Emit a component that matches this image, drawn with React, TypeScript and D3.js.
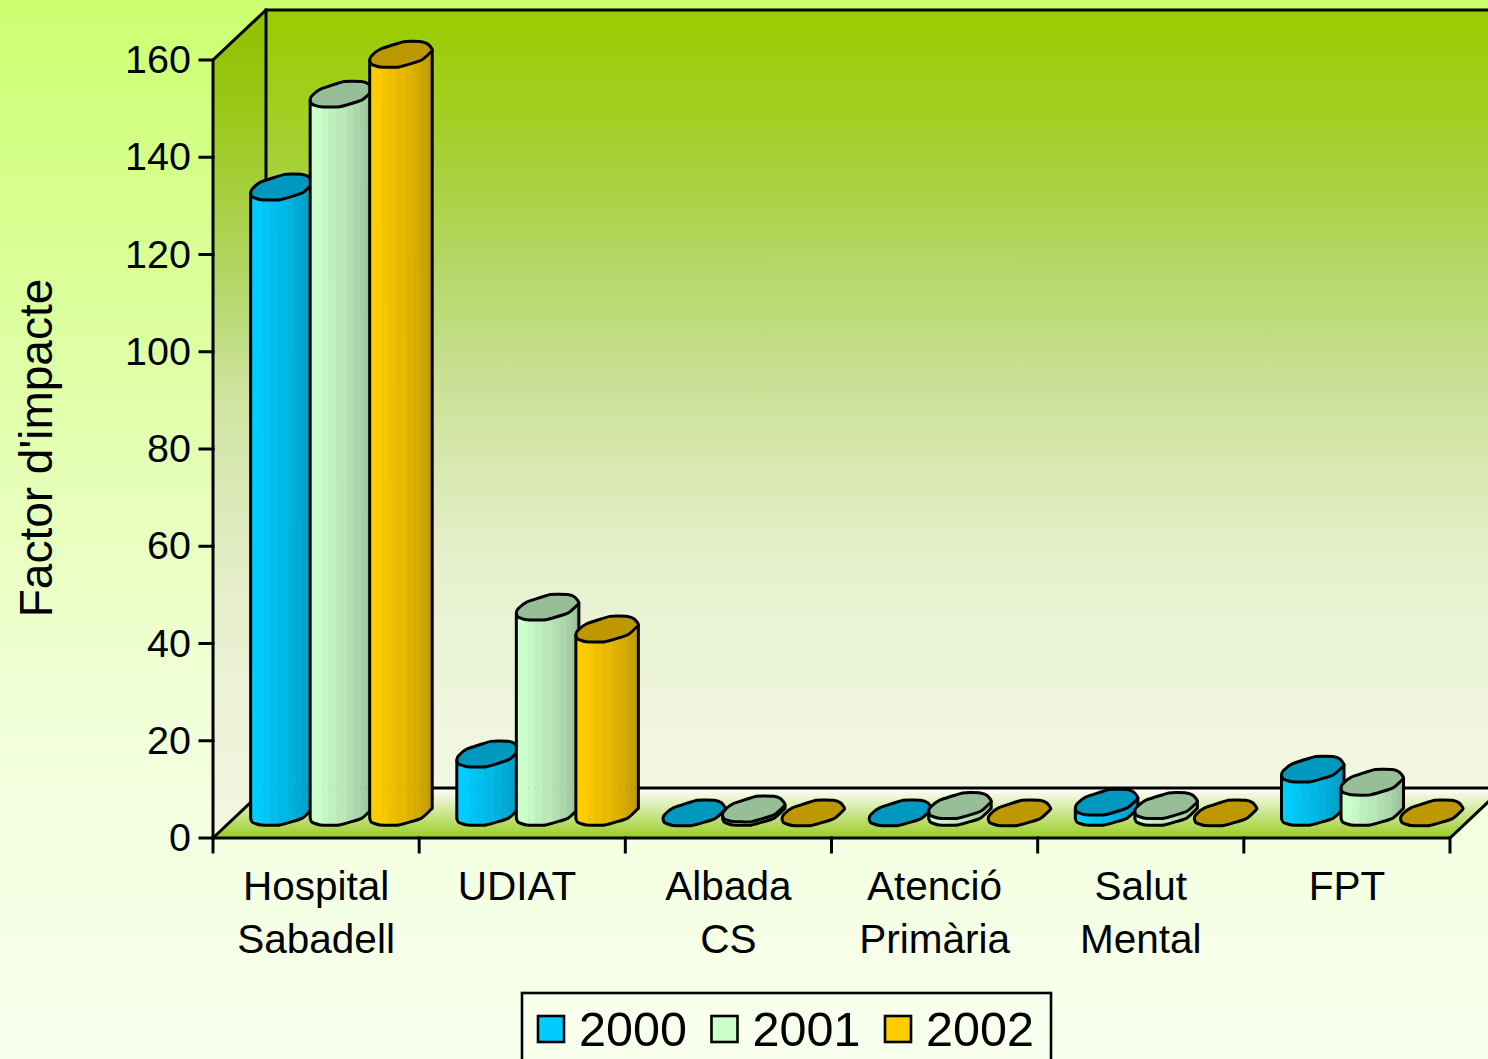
import React from "react";
import * as d3 from "d3";

const categories = ["Hospital Sabadell", "UDIAT", "Albada CS", "Atenció Primària", "Salut Mental", "FPT"];
const categoryLines = [["Hospital", "Sabadell"], ["UDIAT "], ["Albada", "CS"], ["Atenció", "Primària"], ["Salut", "Mental"], ["FPT"]];
const seriesNames = ["2000", "2001", "2002"];
const values2000 = [128.7, 12.1, 0, 0, 2.2, 9];
const values2001 = [147.8, 42.3, 0.8, 1.5, 1.5, 6.3];
const values2002 = [156, 37.8, 0, 0, 0, 0];
const seriesValues = [values2000, values2001, values2002];
const seriesColors = ["#00ccff", "#ccffcc", "#ffcc00"];
const yTicks = [0, 20, 40, 60, 80, 100, 120, 140, 160];

const W = 1488, H = 1059;
const left = 213, right = 1450, bottom = 838, top = 60;
const depthX = 53, depthY = 50;
const y = d3.scaleLinear().domain([0, 160]).range([bottom, top]);
const x0 = d3.scaleBand<string>().domain(categories).range([left, right]);
const x1 = d3.scaleBand<string>().domain(seriesNames).range([0, x0.bandwidth()]).paddingOuter(0.232);

// outline of the low-poly cylinder cap, relative to its centre
const widthScale = 1.03;
const capFront: [number, number][] = [
  [-30.5, 5.8], [-28.8, 9.8], [-20.5, 12.5], [-2.2, 12.5], [19.5, 5.8], [30.2, -4.2],
].map(([a, b]) => [a * widthScale, b] as [number, number]);
const capBack: [number, number][] = [
  [26.2, -10.2], [19.5, -12.8], [2.5, -12.8], [-20.5, -5.2], [-28.8, 1.5],
].map(([a, b]) => [a * widthScale, b] as [number, number]);
const capAll = [...capFront, ...capBack];
const stripeFractions = [0, 0.19, 0.3, 0.43, 0.59, 0.7, 0.81, 0.89, 0.95, 1];

const frontY = d3.scaleLinear().domain(capFront.map((p) => p[0])).range(capFront.map((p) => p[1]));
const xMin = capFront[0][0];
const xMax = capFront[capFront.length - 1][0];
const stripeX = d3.scaleLinear().domain([0, 1]).range([xMin, xMax]);

const line = d3.line<[number, number]>();
const capLine = d3.line<[number, number]>().curve(d3.curveCardinalClosed.tension(0.55));
const frontLine = d3.line<[number, number]>().curve(d3.curveCardinal.tension(0.55));
const at = (cx: number, cy: number) => (p: [number, number]): [number, number] => [cx + p[0], cy + p[1]];

function Bar({ cx, value, color }: { cx: number; value: number; color: string }) {
  const baseY = y(0) - depthY / 2 - 0.5;
  const topY = y(value) - depthY / 2;
  const dark = d3.rgb(color).darker(0.83).formatHex();
  const shade = d3.interpolateRgb(color, dark);
  const cap = capLine(capAll.map(at(cx, topY)))!;
  const bottomEdge = frontLine(capFront.map(at(cx, baseY)))!;
  return (
    <g>
      {value > 0 && stripeFractions.slice(0, -1).map((f, i) => {
        const xa = stripeX(f), xb = stripeX(stripeFractions[i + 1]);
        const d = line([
          [cx + xa, baseY + frontY(xa)], [cx + xb, baseY + frontY(xb)],
          [cx + xb, topY + frontY(xb)], [cx + xa, topY + frontY(xa)],
        ])! + "Z";
        const c = shade(i / (stripeFractions.length - 2));
        return <path key={i} d={d} fill={c} stroke={c} strokeWidth={0.6} />;
      })}
      {value > 0 && (
        <path d={`M${cx + xMin},${topY + capFront[0][1]}V${baseY + capFront[0][1]}M${cx + xMax},${topY + capFront[5][1]}V${baseY + capFront[5][1]}`}
          fill="none" stroke="#000" strokeWidth={3} strokeLinecap="round" />
      )}
      {value > 0 && <path d={bottomEdge} fill="none" stroke="#000" strokeWidth={3} strokeLinejoin="round" />}
      <path d={cap} fill={dark} stroke="#000" strokeWidth={3} strokeLinejoin="round" />
    </g>
  );
}

export default function App() {
  const backX = left + depthX;
  const floorBack = bottom - depthY;
  const wallTop = top - depthY;
  const xTicks = [...categories.map((c) => x0(c)!), right];
  return (
    <svg width={W} height={H} viewBox={`0 0 ${W} ${H}`}
      style={{ position: "fixed", left: 0, top: 0, display: "block", fontFamily: "'Liberation Sans', Arial, sans-serif" }}>
      <defs>
        <linearGradient id="page" x1="0" y1="0" x2="0" y2="1">
          <stop offset="0" stopColor="#cdff70" />
          <stop offset="0.255" stopColor="#daff98" />
          <stop offset="0.51" stopColor="#e9ffc0" />
          <stop offset="0.64" stopColor="#f0ffd4" />
          <stop offset="0.765" stopColor="#f4ffe0" />
          <stop offset="1" stopColor="#f8ffec" />
        </linearGradient>
        <linearGradient id="wall" x1="0" y1="0" x2="0" y2="1">
          <stop offset="0" stopColor="#99cc00" />
          <stop offset="0.118" stopColor="#a0cf1e" />
          <stop offset="0.2" stopColor="#a6d138" />
          <stop offset="0.315" stopColor="#b2d762" />
          <stop offset="0.446" stopColor="#c5de8c" />
          <stop offset="0.577" stopColor="#d8e7ae" />
          <stop offset="0.708" stopColor="#e6f0cc" />
          <stop offset="0.84" stopColor="#ecf4d9" />
          <stop offset="1" stopColor="#f3f7e3" />
        </linearGradient>
        <linearGradient id="side" x1="0" y1="0" x2="0" y2="1">
          <stop offset="0" stopColor="#90c000" />
          <stop offset="0.11" stopColor="#98c814" />
          <stop offset="0.35" stopColor="#b6d870" />
          <stop offset="0.47" stopColor="#d0e4a0" />
          <stop offset="0.59" stopColor="#dbe9b8" />
          <stop offset="0.71" stopColor="#e6eecb" />
          <stop offset="0.83" stopColor="#ecf2d7" />
          <stop offset="1" stopColor="#f3f6e2" />
        </linearGradient>
        <linearGradient id="floor" x1="0" y1="0" x2="0" y2="1">
          <stop offset="0" stopColor="#ffffff" />
          <stop offset="1" stopColor="#99cc22" />
        </linearGradient>
      </defs>
      <rect width={W} height={H} fill="url(#page)" />
      <polygon points={`${backX},${wallTop} ${W + 40},${wallTop} ${W + 40},${floorBack} ${backX},${floorBack}`} fill="url(#wall)" />
      <polygon points={`${left},${top} ${backX},${wallTop} ${backX},${floorBack} ${left},${bottom}`} fill="url(#side)" />
      <polygon points={`${left},${bottom} ${right},${bottom} ${right + depthX},${floorBack} ${backX},${floorBack}`} fill="url(#floor)" />
      <g stroke="#000" strokeWidth={3} fill="none" strokeLinecap="square">
        <path d={`M${left},${bottom}V${top}L${backX},${wallTop}H${W + 20}`} />
        <path d={`M${backX},${wallTop}V${floorBack}H${W + 20}`} />
        <path d={`M${left},${bottom}L${backX},${floorBack}`} />
        <path d={`M${left},${bottom}H${right}L${right + depthX},${floorBack}`} />
        {yTicks.map((t) => <path key={t} d={`M${left - 13},${y(t)}H${left}`} />)}
        {xTicks.map((t, i) => <path key={i} d={`M${t},${bottom}V${bottom + 14}`} />)}
      </g>
      {categories.map((c, ci) =>
        seriesNames.map((s, si) => (
          <Bar key={c + s} cx={x0(c)! + x1(s)! + x1.bandwidth() / 2 + depthX / 2 - 1}
            value={seriesValues[si][ci]} color={seriesColors[si]} />
        ))
      )}
      {yTicks.map((t) => (
        <text key={t} x={191} y={y(t) - 1} dy="0.36em" textAnchor="end" fontSize={39.5} fill="#000">{t}</text>
      ))}
      {categories.map((c, ci) => categoryLines[ci].map((ln, li) => (
        <text key={ln} x={x0(c)! + x0.bandwidth() / 2} y={900 + li * 53} textAnchor="middle"
          fontSize={40.5} fill="#000" style={{ whiteSpace: "pre" }}>{ln}</text>
      )))}
      <text transform="translate(52,448) rotate(-90)" textAnchor="middle" fontSize={46} fill="#000">Factor d'impacte</text>
      <rect x={522} y={993} width={529} height={90} fill="#f8ffec" stroke="#000" strokeWidth={2.6} />
      {seriesNames.map((s, i) => {
        const sx = 538 + i * 173.5;
        return (
          <g key={s}>
            <rect x={sx} y={1016} width={26} height={26} fill={seriesColors[i]} stroke="#000" strokeWidth={2.6} />
            <text x={sx + 41} y={1045.5} fontSize={48.5} fill="#000">{s}</text>
          </g>
        );
      })}
    </svg>
  );
}
